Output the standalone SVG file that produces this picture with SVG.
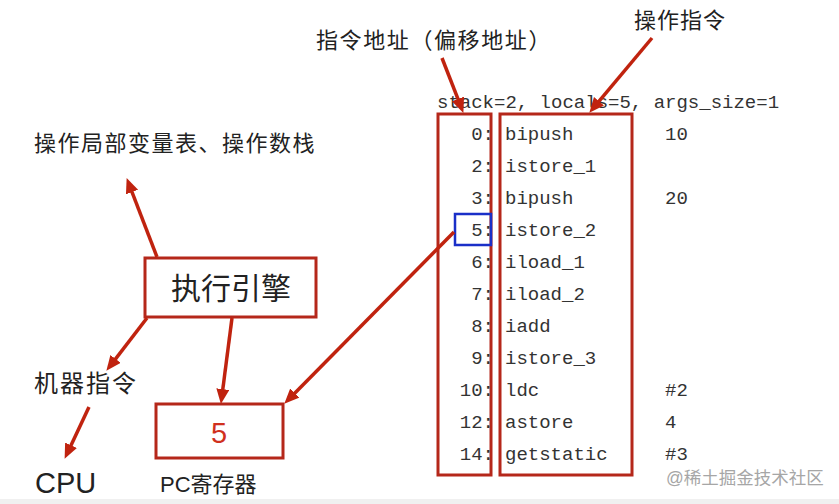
<svg xmlns="http://www.w3.org/2000/svg" width="839" height="504" viewBox="0 0 839 504">
<style>
.code{font-family:"Liberation Mono","DejaVu Sans Mono",monospace;font-size:19px;fill:#333}
.cn{font-family:"Liberation Sans","Noto Sans CJK SC",sans-serif;fill:#222}
.box{fill:none;stroke:#b5271a;stroke-width:3}
.arr{stroke:#c0230f;stroke-width:3.5;fill:none;marker-end:url(#ah)}
</style>
<defs>
<marker id="ah" markerUnits="userSpaceOnUse" markerWidth="16" markerHeight="14" refX="4" refY="6.5" orient="auto">
<path d="M0,0 L15,6.5 L0,13 Z" fill="#c0230f"/>
</marker>
</defs>
<rect x="0" y="0" width="839" height="504" fill="#fff"/>
<rect x="0" y="499" width="839" height="5" fill="#f0f0f0"/>

<g id="label-addr"><text class="cn" x="316" y="48" font-size="22" letter-spacing="1.6">指令地址（偏移地址）</text></g>
<g id="label-op"><text class="cn" x="634" y="28" font-size="22" letter-spacing="1">操作指令</text></g>
<g id="label-stack"><text class="cn" x="34" y="151" font-size="22" letter-spacing="1.5">操作局部变量表、操作数栈</text></g>

<g id="engine">
<rect x="145" y="258" width="171" height="59" fill="#fff" stroke="#b5271a" stroke-width="3"/>
<text class="cn" x="231" y="299" font-size="30" text-anchor="middle" fill="#111">执行引擎</text>
</g>
<g id="label-machine"><text class="cn" x="34" y="392" font-size="24" letter-spacing="2">机器指令</text></g>
<g id="cpu"><text class="cn" x="35" y="493" font-size="29" fill="#111">CPU</text></g>
<g id="pc">
<rect x="156" y="404" width="127" height="54" class="box"/>
<text x="219" y="443" font-family="Liberation Sans,sans-serif" font-size="29" fill="#d0301e" text-anchor="middle">5</text>
<text class="cn" x="160" y="492" font-size="22">PC寄存器</text>
</g>
<g id="watermark"><text x="666" y="484" font-family="Liberation Sans,'Noto Sans CJK SC',sans-serif" font-size="17.5" fill="#a6a6a6">@稀土掘金技术社区</text></g>

<g id="bytecode">
<text class="code" x="437" y="108">stack=2, locals=5, args_size=1</text>
<rect x="438" y="114" width="53" height="361" class="box"/>
<rect x="500" y="114" width="132" height="361" class="box"/>
<rect x="455" y="214" width="36" height="31" fill="none" stroke="#1a2fc8" stroke-width="2.5"/>
<g class="code" text-anchor="end">
<text x="494" y="140">0:</text>
<text x="494" y="172">2:</text>
<text x="494" y="204">3:</text>
<text x="494" y="236">5:</text>
<text x="494" y="268">6:</text>
<text x="494" y="300">7:</text>
<text x="494" y="332">8:</text>
<text x="494" y="364">9:</text>
<text x="494" y="396">10:</text>
<text x="494" y="428">12:</text>
<text x="494" y="460">14:</text>
</g>
<g class="code">
<text x="505" y="140">bipush</text>
<text x="505" y="172">istore_1</text>
<text x="505" y="204">bipush</text>
<text x="505" y="236">istore_2</text>
<text x="505" y="268">iload_1</text>
<text x="505" y="300">iload_2</text>
<text x="505" y="332">iadd</text>
<text x="505" y="364">istore_3</text>
<text x="505" y="396">ldc</text>
<text x="505" y="428">astore</text>
<text x="505" y="460">getstatic</text>
<text x="665" y="140">10</text>
<text x="665" y="204">20</text>
<text x="665" y="396">#2</text>
<text x="665" y="428">4</text>
<text x="665" y="460">#3</text>
</g>
</g>

<g id="connectors">
<line class="arr" x1="442" y1="58" x2="459.4" y2="102.7"/>
<line class="arr" x1="652" y1="38" x2="596.4" y2="104.3"/>
<line class="arr" x1="157" y1="257" x2="130.6" y2="188.3"/>
<line class="arr" x1="147" y1="318" x2="113.1" y2="362.1"/>
<line class="arr" x1="232" y1="318" x2="222.3" y2="393.1"/>
<line class="arr" x1="454" y1="232" x2="292" y2="395.9"/>
<line class="arr" x1="89" y1="407" x2="69.3" y2="448.9"/>
</g>
</svg>
